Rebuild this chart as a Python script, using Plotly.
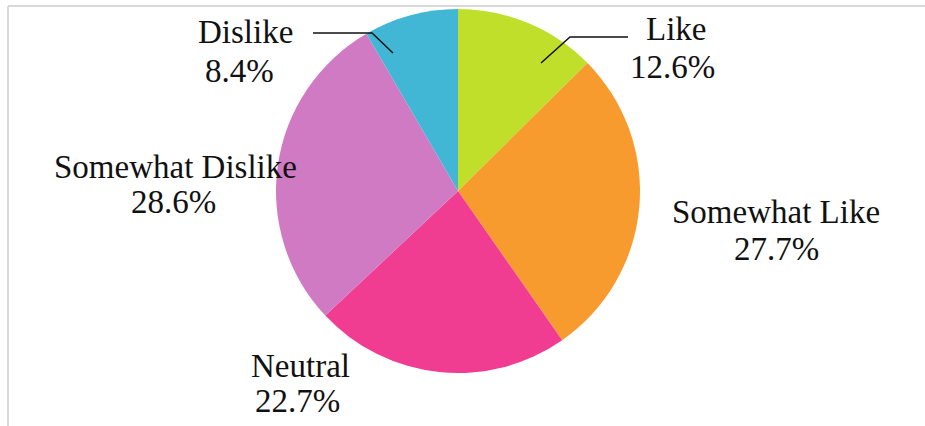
import plotly.graph_objects as go

# Survey responses, clockwise from 12 o'clock
labels = ["Like", "Somewhat Like", "Neutral", "Somewhat Dislike", "Dislike"]
shares = [12.6, 27.7, 22.7, 28.6, 8.4]
colors = ["#BFDF2A", "#F89B2E", "#F03D91", "#D07AC4", "#41B7D5"]

W, H = 925, 426

def px(x):
    return x / W

def py(y):
    return 1 - y / H

# pie centre and radius in pixels
cx, cy, r = 458, 191, 182

fig = go.Figure(go.Pie(
    labels=labels,
    values=shares,
    sort=False,
    direction="clockwise",
    rotation=0,
    marker=dict(colors=colors, line=dict(width=0)),
    textinfo="none",
    hoverinfo="label+percent",
    showlegend=False,
    domain=dict(x=[px(cx - r), px(cx + r)], y=[py(cy + r), py(cy - r)]),
))

# label placement: (name centre x, name centre y, value centre x, value centre y)
label_pos = {
    "Like": (676, 29, 672, 67),
    "Somewhat Like": (776, 212, 776, 249),
    "Neutral": (300, 366, 297, 401),
    "Somewhat Dislike": (175, 167, 173, 202),
    "Dislike": (245, 32, 239, 71),
}

font = dict(family="Liberation Serif, Times New Roman, serif", size=33, color="#111111")
annotations = []
for name, val in zip(labels, shares):
    nx, ny, vx, vy = label_pos[name]
    annotations.append(dict(text=name, x=px(nx), y=py(ny), xref="paper", yref="paper",
                            showarrow=False, font=font, xanchor="center", yanchor="middle"))
    annotations.append(dict(text=f"{val:.1f}%", x=px(vx), y=py(vy), xref="paper", yref="paper",
                            showarrow=False, font=font, xanchor="center", yanchor="middle"))

def leader(points):
    path = "M " + " L ".join(f"{px(x):.5f},{py(y):.5f}" for x, y in points)
    return dict(type="path", path=path, xref="paper", yref="paper",
                line=dict(color="#111111", width=1.5))

shapes = [
    leader([(313, 33), (372, 33), (393, 53)]),
    leader([(628, 37), (570, 37), (541, 63)]),
    # frame edges
    dict(type="line", xref="paper", yref="paper", x0=px(8), x1=1, y0=py(6), y1=py(6),
         line=dict(color="#D9D9D9", width=2)),
    dict(type="line", xref="paper", yref="paper", x0=px(8), x1=px(8), y0=py(6), y1=0,
         line=dict(color="#D9D9D9", width=2)),
]

fig.update_layout(
    width=W, height=H,
    margin=dict(l=0, r=0, t=0, b=0),
    paper_bgcolor="white",
    plot_bgcolor="white",
    annotations=annotations,
    shapes=shapes,
)

fig.write_html("out.html")
